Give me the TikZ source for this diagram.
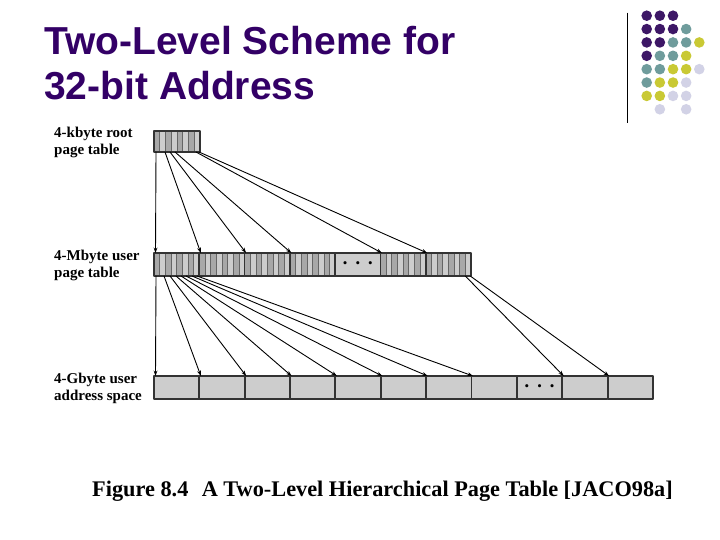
\documentclass[tikz,border=0pt]{standalone}
\usepackage{fontspec}
\setmainfont{Liberation Serif}
\newfontfamily\titlefont{Liberation Sans}
\usetikzlibrary{arrows.meta,calc}
\definecolor{slideTitlePurple}{HTML}{330066}
\definecolor{dotPurple}{HTML}{3D1766}
\definecolor{dotTeal}{HTML}{6F9C9C}
\definecolor{dotYellow}{HTML}{C9C934}
\definecolor{dotLavender}{HTML}{D2D2E6}
\definecolor{cellGray}{HTML}{CDCDCD}
\definecolor{stripeGray}{HTML}{A8A8A8}
\tikzset{
    cell/.style={draw=black!80, line width=1.8pt, fill=cellGray, minimum width=45.3pt, minimum height=23pt, inner sep=0pt, outer sep=0pt, anchor=north west},
    stripes/.style={path picture={
        \foreach \k/\kk in {0/1,2/3,4/5,6/7}
            \fill[stripeGray] ($(path picture bounding box.north west)!\k/8!(path picture bounding box.north east)$) rectangle ($(path picture bounding box.south west)!\kk/8!(path picture bounding box.south east)$);
        \foreach \k in {1,...,7}
            \draw[black!60, line width=0.6pt] ($(path picture bounding box.north west)!\k/8!(path picture bounding box.north east)$) -- ($(path picture bounding box.south west)!\k/8!(path picture bounding box.south east)$);
    }},
    dotsbox/.style={font=\fontsize{13}{13}\selectfont},
    sidelabel/.style={font=\fontsize{15}{17}\selectfont\bfseries, align=left, anchor=base west, inner sep=0pt},
    ptr/.style={-{Stealth[length=5.5pt, width=3.8pt]}, line width=0.9pt}
}

\begin{document}
\begin{tikzpicture}[x=1pt, y=-1pt, line join=round]
    \fill[white] (0,0) rectangle (720,540);
    \useasboundingbox (0,0) rectangle (720,540);

    \node[font=\titlefont\fontsize{39}{45}\selectfont\bfseries, text=slideTitlePurple, align=left, anchor=base west, inner sep=0pt] (title) at (44,100) {Two-Level Scheme for\\32-bit Address};

    \draw[line width=1.2pt] (627.7,12.7) -- (627.7,123);
    \foreach \c/\r/\col in {1/1/dotPurple,2/1/dotPurple,3/1/dotPurple,
                            1/2/dotPurple,2/2/dotPurple,3/2/dotPurple,4/2/dotTeal,
                            1/3/dotPurple,2/3/dotPurple,3/3/dotTeal,4/3/dotTeal,5/3/dotYellow,
                            1/4/dotPurple,2/4/dotTeal,3/4/dotTeal,4/4/dotYellow,
                            1/5/dotTeal,2/5/dotTeal,3/5/dotYellow,4/5/dotYellow,5/5/dotLavender,
                            1/6/dotTeal,2/6/dotYellow,3/6/dotYellow,4/6/dotLavender,
                            1/7/dotYellow,2/7/dotYellow,3/7/dotLavender,4/7/dotLavender,
                            2/8/dotLavender,4/8/dotLavender}
        \fill[\col] ({646.7+13.15*(\c-1)},{15.7+13.37*(\r-1)}) circle (5.3pt);

    \node[sidelabel] (rootlabel) at (54,155) {4-kbyte root\\page table};
    \node[sidelabel] (userlabel) at (54,277.5) {4-Mbyte user\\page table};
    \node[sidelabel] (spacelabel) at (54,400.5) {4-Gbyte user\\address space};

    \node[cell, stripes, minimum width=46pt, minimum height=21pt] (root) at (154,131) {};

    \foreach \i in {1,2,3,4,6,7}
        \node[cell, stripes] (u\i) at ({154+45.29*(\i-1)},253) {};
    \node[cell, dotsbox] (u5) at ({154+45.29*4},253) {\textbullet\hspace{8pt}\textbullet\hspace{8pt}\textbullet};

    \foreach \i in {1,...,8,10,11}
        \node[cell] (a\i) at ({154+45.36*(\i-1)},376) {};
    \node[cell, dotsbox] (a9) at ({154+45.36*8},376) {\textbullet\hspace{8pt}\textbullet\hspace{8pt}\textbullet};

    \foreach \s/\t in {2/1,11/2,16/3,21/4,42/6,45/7}
        \draw[ptr] ([xshift=\s pt]root.south west) -- ([xshift=1.5pt]u\t.north west);

    \foreach \s/\t in {2/1,10/2,16/3,22/4,27/5,32/6,38/7,43/8}
        \draw[ptr] ([xshift=\s pt]u1.south west) -- ([xshift=1.5pt]a\t.north west);
    \foreach \s/\t in {39.5/10,44.5/11}
        \draw[ptr] ([xshift=\s pt]u7.south west) -- ([xshift=1.5pt]a\t.north west);

    \node[font=\fontsize{22.3}{24}\selectfont\bfseries, anchor=base west, inner sep=0pt] (caption) at (92,496) {Figure 8.4\hspace{0.6em}A Two-Level Hierarchical Page Table [JACO98a]};
\end{tikzpicture}
\end{document}
